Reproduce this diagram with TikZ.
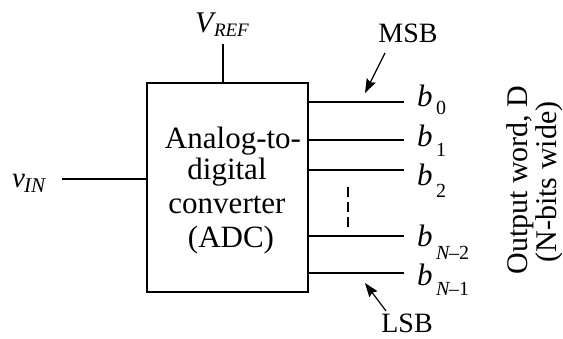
\documentclass[tikz,border=0pt]{standalone}
\usepackage{fontspec}
\setmainfont{Liberation Serif}
\usetikzlibrary{arrows.meta}
\begin{document}
\begin{tikzpicture}[x=1pt,y=-1pt,
  wire/.style={line width=1.2pt,black},
  boxtext/.style={font=\fontsize{31}{31}\selectfont,inner sep=0pt,anchor=base},
  blab/.style={font=\fontsize{31}{31}\selectfont\itshape,inner sep=0pt,anchor=base west},
  sublab/.style={font=\fontsize{20}{20}\selectfont,inner sep=0pt,anchor=base west},
  bitlab/.style={font=\fontsize{28}{28}\selectfont,inner sep=0pt,anchor=base},
  sidelab/.style={font=\fontsize{30}{30}\selectfont,inner sep=0pt,anchor=base,rotate=90},
  pointer/.style={line width=1.2pt,-{Stealth[length=14pt,width=10pt,inset=2pt]}},
  vdash/.style={line width=1.2pt,dash pattern=on 10pt off 5pt}]
\useasboundingbox[fill=white] (0,0) rectangle (563,339);
% ADC box
\node[draw,line width=1.2pt,minimum width=161pt,minimum height=209pt,inner sep=0pt] (adc) at (227.5,187.5) {};
\node[boxtext] (t1) at (233,149) {Analog-to-};
\node[boxtext] (t2) at (227,180) {digital};
\node[boxtext] (t3) at (227,214) {converter};
\node[boxtext] (t4) at (231,248) {(ADC)};
% V_REF
\node[inner sep=0pt,anchor=base] (vref) at (222,33) {\fontsize{30}{30}\selectfont\itshape V\kern0.5pt\raisebox{-4pt}{\fontsize{19}{19}\selectfont REF}};
\coordinate (vreftop) at (223,44);
\draw[wire] (vreftop) -- (vreftop |- adc.north);
% v_IN
\node[inner sep=0pt,anchor=base west] (vin) at (12,188) {\fontsize{29}{29}\selectfont\itshape v\kern-1pt\raisebox{-5pt}{\fontsize{21}{21}\selectfont IN}};
\coordinate (vinend) at (62,179);
\draw[wire] (vinend) -- (vinend -| adc.west);
% output bit lines
\coordinate (e0) at (404,102);
\coordinate (e1) at (404,140);
\coordinate (e2) at (404,170);
\coordinate (e3) at (404,236);
\coordinate (e4) at (404,273);
\foreach \i in {0,...,4}{\draw[wire] (e\i -| adc.east) -- (e\i);}
% dashed continuation
\coordinate (d1) at (348,187);
\coordinate (d2) at (348,227);
\draw[vdash] (d1) -- (d2);
% bit labels
\node[blab] (lb0) at (417,107) {b};
\node[sublab] (sb0) at (436,115) {0};
\node[blab] (lb1) at (417,147) {b};
\node[sublab] (sb1) at (436,157) {1};
\node[blab] (lb2) at (417,186) {b};
\node[sublab] (sb2) at (436,198) {2};
\node[blab] (lb3) at (417,247) {b};
\node[sublab] (sb3) at (436,260) {\itshape N\kern-0.5pt\normalfont\textendash2};
\node[blab] (lb4) at (417,286) {b};
\node[sublab] (sb4) at (436,296) {\itshape N\kern-0.5pt\normalfont\textendash1};
% MSB / LSB
\node[bitlab] (msb) at (408,43) {MSB};
\node[bitlab] (lsb) at (407,333) {LSB};
\coordinate (mtail) at (385,53);
\coordinate (mtip) at (365,93);
\draw[pointer] (mtail) -- (mtip);
\coordinate (ltail) at (386,311);
\coordinate (ltip) at (365,283);
\draw[pointer] (ltail) -- (ltip);
% side labels
\node[sidelab] (ow) at (527,180) {Output word, D};
\node[sidelab] (nb) at (556,182) {(N-bits wide)};
\end{tikzpicture}
\end{document}
